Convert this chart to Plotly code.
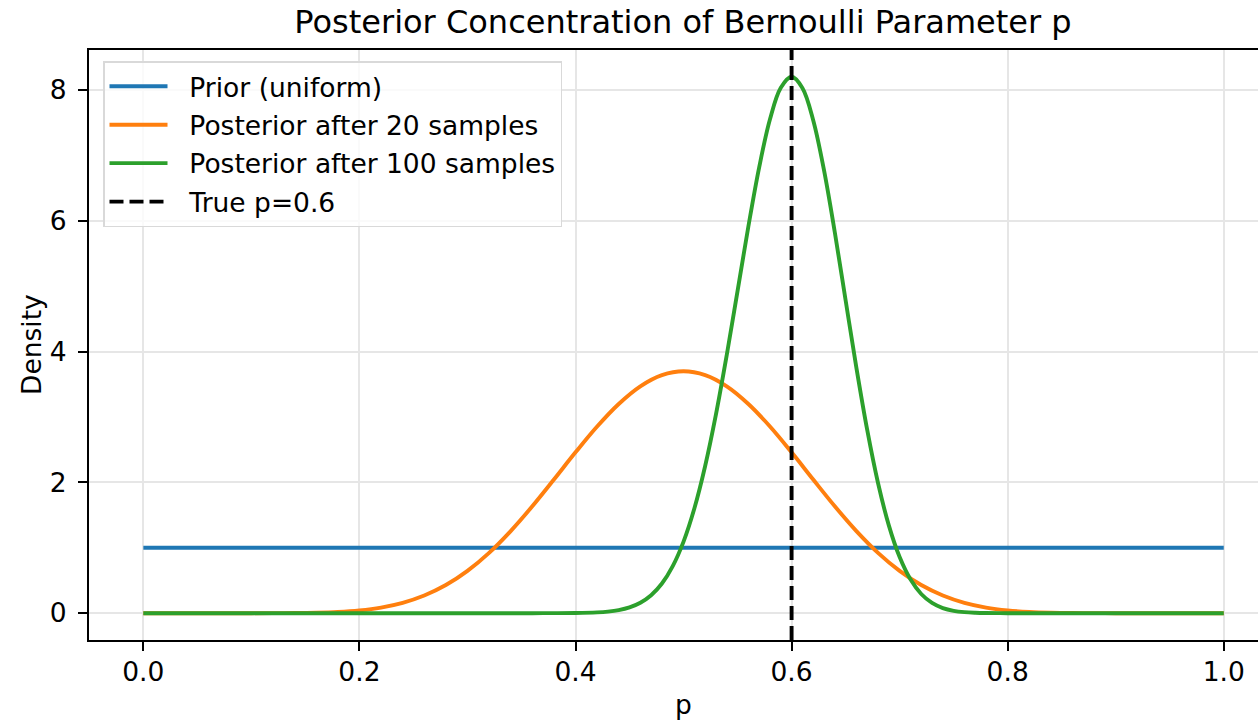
import plotly.graph_objects as go

# ---------------- data ----------------
prior_x = [0.0, 1.0]
prior_y = [1.0, 1.0]

post20_x = [0.00, 0.02, 0.04, 0.06, 0.08, 0.10, 0.12, 0.14, 0.16, 0.18,
            0.20, 0.22, 0.24, 0.26, 0.28, 0.30, 0.32, 0.34, 0.36, 0.38,
            0.40, 0.42, 0.44, 0.46, 0.48, 0.50, 0.52, 0.54, 0.56, 0.58,
            0.60, 0.62, 0.64, 0.66, 0.68, 0.70, 0.72, 0.74, 0.76, 0.78,
            0.80, 0.82, 0.84, 0.86, 0.88, 0.90, 0.92, 0.94, 0.96, 0.98, 1.00]
post20_y = [0.0, 0.0, 0.0, 0.0, 0.0, 0.0001, 0.0007, 0.0025, 0.0075, 0.019,
            0.0427, 0.0859, 0.158, 0.270, 0.430, 0.647, 0.923, 1.256, 1.635, 2.044,
            2.460, 2.855, 3.200, 3.470, 3.641, 3.700, 3.641, 3.470, 3.200, 2.855,
            2.460, 2.044, 1.635, 1.256, 0.923, 0.647, 0.430, 0.270, 0.158, 0.0859,
            0.0427, 0.019, 0.0075, 0.0025, 0.0007, 0.0001, 0.0, 0.0, 0.0, 0.0, 0.0]

post100_x = [0.00, 0.02, 0.04, 0.06, 0.08, 0.10, 0.12, 0.14, 0.16, 0.18,
             0.20, 0.22, 0.24, 0.26, 0.28, 0.30, 0.32, 0.34, 0.36, 0.38,
             0.40, 0.42, 0.43, 0.44, 0.45, 0.46, 0.47, 0.48, 0.49, 0.50,
             0.51, 0.52, 0.53, 0.54, 0.55, 0.56, 0.57, 0.58, 0.59, 0.60,
             0.61, 0.62, 0.63, 0.64, 0.65, 0.66, 0.67, 0.68, 0.69, 0.70,
             0.71, 0.72, 0.73, 0.74, 0.75, 0.76, 0.77, 0.78, 0.80, 0.82,
             0.84, 0.86, 0.88, 0.90, 0.92, 0.94, 0.96, 0.98, 1.00]
post100_y = [0.0, 0.0, 0.0, 0.0, 0.0, 0.0, 0.0, 0.0, 0.0, 0.0,
             0.0, 0.0, 0.0, 0.0, 0.0, 0.0, 0.0, 0.0, 0.0001, 0.0004,
             0.0025, 0.0119, 0.0243, 0.0476, 0.0891, 0.160, 0.275, 0.454, 0.720, 1.095,
             1.601, 2.251, 3.040, 3.949, 4.929, 5.914, 6.819, 7.553, 8.035, 8.203,
             8.033, 7.540, 6.776, 5.826, 4.787, 3.752, 2.802, 1.991, 1.343, 0.858,
             0.518, 0.294, 0.157, 0.0786, 0.0366, 0.0158, 0.0063, 0.0023, 0.0002, 0.0,
             0.0, 0.0, 0.0, 0.0, 0.0, 0.0, 0.0, 0.0, 0.0]

true_p = 0.6

series_names = ["Prior (uniform)", "Posterior after 20 samples",
                "Posterior after 100 samples", "True p=0.6"]
x_ticks = [0.0, 0.2, 0.4, 0.6, 0.8, 1.0]
x_tick_labels = ["0.0", "0.2", "0.4", "0.6", "0.8", "1.0"]
y_ticks = [0, 2, 4, 6, 8]
y_tick_labels = ["0", "2", "4", "6", "8"]

# ---------------- figure ----------------
FONT = "DejaVu Sans"
FS = 26.5
W, H = 1258, 720
ML, MR, MT, MB = 89, 0, 50, 80
LW = 3.9
PADNAME = "  "  # gap between legend line sample and label

fig = go.Figure()
fig.add_trace(go.Scatter(x=prior_x, y=prior_y, mode="lines", name=PADNAME + series_names[0],
                         legendgroup="a", line=dict(color="#1f77b4", width=LW)))
fig.add_trace(go.Scatter(x=post20_x, y=post20_y, mode="lines", name=PADNAME + series_names[1],
                         legendgroup="b",
                         line=dict(color="#ff7f0e", width=LW, shape="spline", smoothing=1)))
fig.add_trace(go.Scatter(x=post100_x, y=post100_y, mode="lines", name=PADNAME + series_names[2],
                         legendgroup="c",
                         line=dict(color="#2ca02c", width=LW, shape="spline", smoothing=1)))
fig.add_shape(type="line", xref="x", yref="paper", x0=true_p, x1=true_p, y0=0, y1=1,
              line=dict(color="black", width=LW, dash="14px,6px"),
              showlegend=True, name=PADNAME + series_names[3], legendgroup="d")

plot_w = W - ML - MR
plot_h = H - MT - MB

fig.update_layout(
    width=W, height=H,
    margin=dict(l=ML, r=MR, t=MT, b=MB, pad=0),
    paper_bgcolor="white", plot_bgcolor="white",
    font=dict(family=FONT, size=FS, color="black"),
    title=dict(text="Posterior Concentration of Bernoulli Parameter p",
               x=683 / W, xanchor="center", xref="container",
               y=1 - 22 / H, yanchor="middle", yref="container",
               font=dict(family=FONT, size=32, color="black")),
    showlegend=True,
    legend=dict(x=(103 - ML) / plot_w, y=(H - MB - 61) / plot_h,
                xanchor="left", yanchor="top",
                bgcolor="rgba(255,255,255,0.8)", bordercolor="#d9d9d9", borderwidth=1.5,
                font=dict(family=FONT, size=FS, color="black"),
                tracegroupgap=1, itemwidth=58),
    xaxis=dict(range=[-0.0503, 1.0317], tickvals=x_ticks, ticktext=x_tick_labels,
               showgrid=True, gridcolor="#e6e6e6", gridwidth=2,
               showline=True, linecolor="black", linewidth=2, mirror=True,
               ticks="outside", ticklen=9, tickwidth=2, tickcolor="black",
               zeroline=False, ticklabelstandoff=-2,
               tickfont=dict(family=FONT, size=FS, color="black")),
    yaxis=dict(range=[-0.41, 8.613], tickvals=y_ticks, ticktext=y_tick_labels,
               showgrid=True, gridcolor="#e6e6e6", gridwidth=2,
               showline=True, linecolor="black", linewidth=2,
               ticks="outside", ticklen=9, tickwidth=2, tickcolor="black",
               zeroline=False, ticklabelstandoff=6,
               tickfont=dict(family=FONT, size=FS, color="black")),
    annotations=[
        dict(text="Density", xref="paper", yref="paper",
             x=(31 - ML) / plot_w, y=0.5, xanchor="center", yanchor="middle",
             textangle=-90, showarrow=False,
             font=dict(family=FONT, size=FS, color="black")),
        dict(text="p", xref="paper", yref="paper",
             x=(683 - ML) / plot_w, y=(H - MB - 704) / plot_h,
             xanchor="center", yanchor="middle", showarrow=False,
             font=dict(family=FONT, size=FS, color="black")),
    ],
)

fig.write_html("out.html")
